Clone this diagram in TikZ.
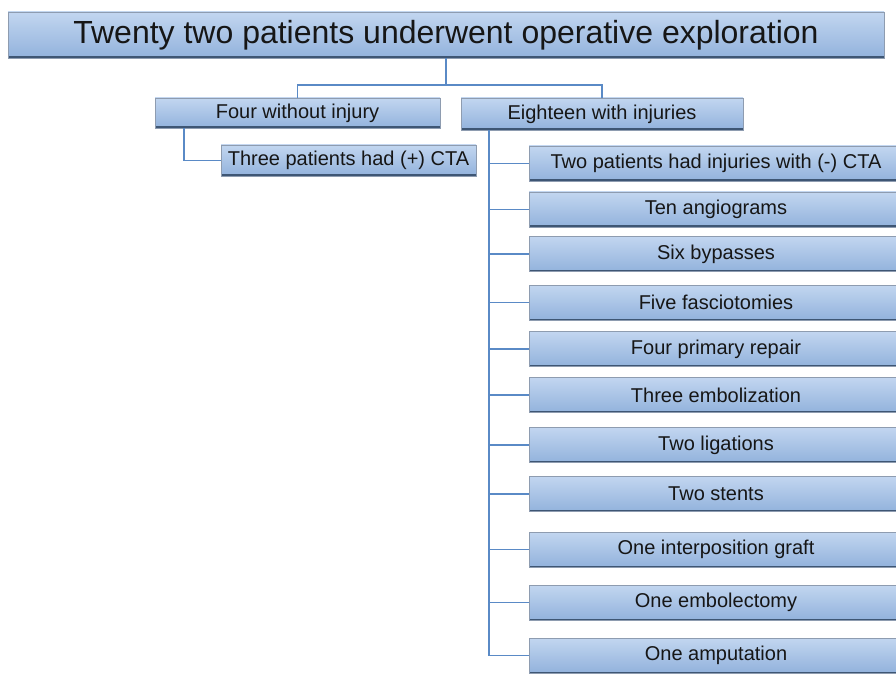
\documentclass[tikz,border=0pt]{standalone}
\usepackage{fontspec}
\setmainfont{Liberation Sans}
\usetikzlibrary{shadings}
\definecolor{boxtop}{HTML}{C2D6F0}
\definecolor{boxbot}{HTML}{92B2DC}
\definecolor{boxedge}{HTML}{8E9CB0}
\definecolor{boxshadow}{HTML}{3E5674}
\definecolor{linkc}{HTML}{5A8AC6}
\definecolor{txt}{HTML}{161616}
\tikzset{
  box/.style={rectangle, inner sep=0pt, top color=boxtop, bottom color=boxbot,
    draw=boxedge, line width=0.8pt, text=txt, font=\fontsize{20}{22}\selectfont,
    path picture={\draw[boxshadow, line width=3pt]
      (path picture bounding box.south west) -- (path picture bounding box.south east);}},
  rbox/.style={box, minimum width=374pt, minimum height=35pt},
  link/.style={draw=linkc, line width=1.6pt},
}
\begin{document}
\begin{tikzpicture}[x=1pt,y=-1pt]
\useasboundingbox (0,0) rectangle (896,676);
\node[box, minimum width=876pt, minimum height=46pt, font=\fontsize{32}{34}\selectfont] (top) at (446,35) {Twenty two patients underwent operative exploration};
\node[box, minimum width=285pt, minimum height=30pt] (four) at (297.5,113) {Four without injury};
\node[box, minimum width=282pt, minimum height=32pt] (eighteen) at (602,114) {Eighteen with injuries};
\node[box, minimum width=255pt, minimum height=31pt] (three) at (348.5,160.5) {Three patients had (+) CTA};
\node[rbox] (r1) at (716,163.5) {Two patients had injuries with (-) CTA};
\node[rbox] (r2) at (716,209.5) {Ten angiograms};
\node[rbox] (r3) at (716,254) {Six bypasses};
\node[rbox] (r4) at (716,302.5) {Five fasciotomies};
\node[rbox] (r5) at (716,349) {Four primary repair};
\node[rbox] (r6) at (716,395) {Three embolization};
\node[rbox] (r7) at (716,445) {Two ligations};
\node[rbox] (r8) at (716,494) {Two stents};
\node[rbox] (r9) at (716,549.5) {One interposition graft};
\node[rbox] (r10) at (716,602.5) {One embolectomy};
\node[rbox] (r11) at (716,655.5) {One amputation};
% connectors
\coordinate (split) at (446,85);
\draw[link] (top.south) -- (split);
\draw[link] (split) -| (four.north);
\draw[link] (split) -| (eighteen.north);
\coordinate (lspine) at (184,128);
\draw[link] (lspine) |- (three.west);
\coordinate (rspine) at (489,130);
\draw[link] (rspine) |- (r11.west);
\foreach \i in {1,...,10}{
  \draw[link] (r\i.west) -- (r\i.west -| rspine);
}
\end{tikzpicture}
\end{document}
